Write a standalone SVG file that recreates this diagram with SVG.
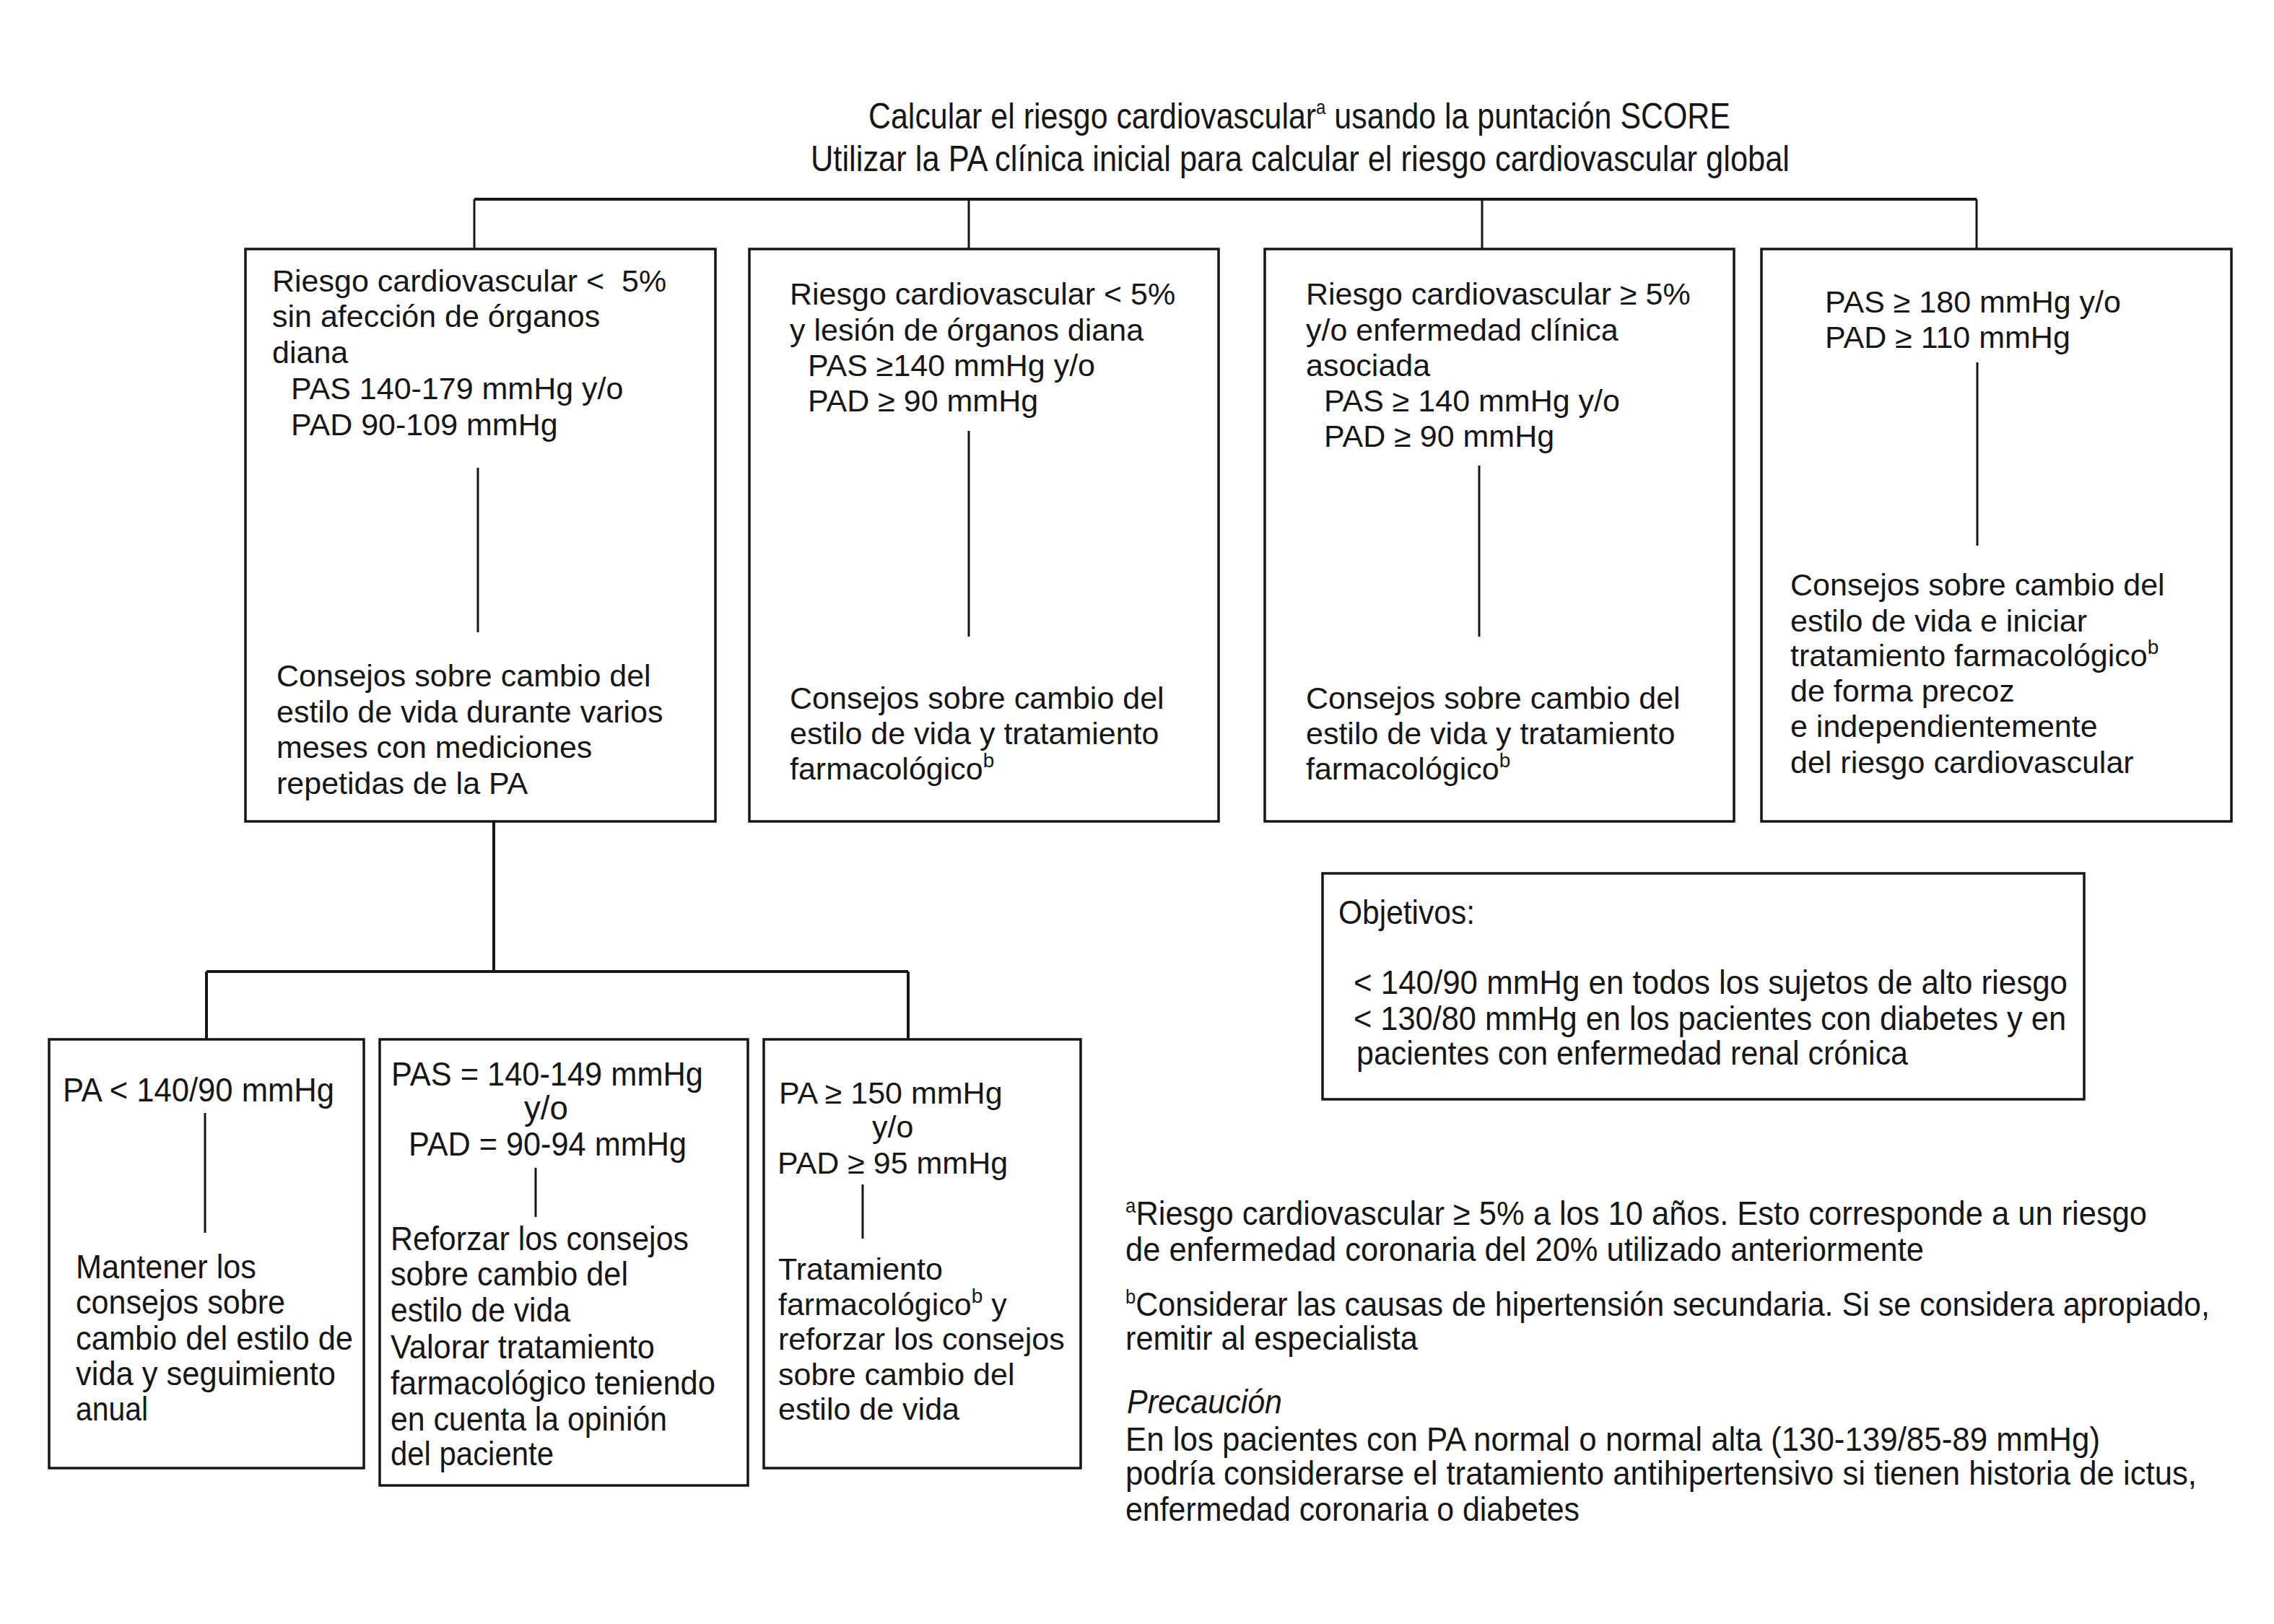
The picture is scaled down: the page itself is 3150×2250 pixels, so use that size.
<svg xmlns="http://www.w3.org/2000/svg" width="3150" height="2250" viewBox="0 0 3150 2250">
<style>
.bg{fill:#ffffff}
.box{fill:#ffffff;stroke:#161616;stroke-width:3.5}
.ln{stroke:#161616;stroke-width:3;fill:none}
.lnb{stroke:#161616;stroke-width:4;fill:none}
text{font-family:"Liberation Sans",Arial,sans-serif;fill:#161616}
.r{font-size:43px}
.c{font-size:47px}
.ti{font-size:50px}
.sup{font-size:28px}
.it{font-style:italic}
</style>
<rect class="bg" x="0" y="0" width="3150" height="2250"/>

<g id="connectors">
  <path class="lnb" d="M657 276 H2738"/>
  <path class="ln" d="M657 276 V345 M1342 276 V345 M2053 276 V345 M2738 276 V345"/>
  <path class="lnb" d="M684 1138 V1346 M286 1346 H1258 M286 1346 V1440 M1258 1346 V1440"/>
</g>

<g id="title">
  <text class="ti" x="1203" y="178" textLength="1194" lengthAdjust="spacingAndGlyphs">Calcular el riesgo cardiovascular<tspan class="sup" dy="-20">a</tspan><tspan dy="20"> usando la puntación SCORE</tspan></text>
  <text class="ti" x="1123" y="237" textLength="1356" lengthAdjust="spacingAndGlyphs">Utilizar la PA clínica inicial para calcular el riesgo cardiovascular global</text>
</g>

<g id="box1">
  <rect class="box" x="340" y="345" width="651" height="793"/>
  <text class="r" x="377" y="404">Riesgo cardiovascular &lt;&#160; 5%</text>
  <text class="r" x="377" y="453">sin afección de órganos</text>
  <text class="r" x="377" y="503">diana</text>
  <text class="r" x="403" y="553">PAS 140-179 mmHg y/o</text>
  <text class="r" x="403" y="603">PAD 90-109 mmHg</text>
  <path class="ln" d="M662 648 V876"/>
  <text class="r" x="383" y="951">Consejos sobre cambio del</text>
  <text class="r" x="383" y="1001">estilo de vida durante varios</text>
  <text class="r" x="383" y="1050">meses con mediciones</text>
  <text class="r" x="383" y="1100">repetidas de la PA</text>
</g>

<g id="box2">
  <rect class="box" x="1038" y="345" width="650" height="793"/>
  <text class="r" x="1094" y="422">Riesgo cardiovascular &lt; 5%</text>
  <text class="r" x="1094" y="472">y lesión de órganos diana</text>
  <text class="r" x="1119" y="521">PAS ≥140 mmHg y/o</text>
  <text class="r" x="1119" y="570">PAD ≥ 90 mmHg</text>
  <path class="ln" d="M1342 597 V882"/>
  <text class="r" x="1094" y="982">Consejos sobre cambio del</text>
  <text class="r" x="1094" y="1031">estilo de vida y tratamiento</text>
  <text class="r" x="1094" y="1080">farmacológico<tspan class="sup" dy="-17">b</tspan></text>
</g>

<g id="box3">
  <rect class="box" x="1752" y="345" width="650" height="793"/>
  <text class="r" x="1809" y="422">Riesgo cardiovascular ≥ 5%</text>
  <text class="r" x="1809" y="472">y/o enfermedad clínica</text>
  <text class="r" x="1809" y="521">asociada</text>
  <text class="r" x="1834" y="570">PAS ≥ 140 mmHg y/o</text>
  <text class="r" x="1834" y="619">PAD ≥ 90 mmHg</text>
  <path class="ln" d="M2049 645 V882"/>
  <text class="r" x="1809" y="982">Consejos sobre cambio del</text>
  <text class="r" x="1809" y="1031">estilo de vida y tratamiento</text>
  <text class="r" x="1809" y="1080">farmacológico<tspan class="sup" dy="-17">b</tspan></text>
</g>

<g id="box4">
  <rect class="box" x="2440" y="345" width="651" height="793"/>
  <text class="r" x="2528" y="433">PAS ≥ 180 mmHg y/o</text>
  <text class="r" x="2528" y="482">PAD ≥ 110 mmHg</text>
  <path class="ln" d="M2739 502 V756"/>
  <text class="r" x="2480" y="825">Consejos sobre cambio del</text>
  <text class="r" x="2480" y="875">estilo de vida e iniciar</text>
  <text class="r" x="2480" y="923">tratamiento farmacológico<tspan class="sup" dy="-17">b</tspan></text>
  <text class="r" x="2480" y="972">de forma precoz</text>
  <text class="r" x="2480" y="1021">e independientemente</text>
  <text class="r" x="2480" y="1071">del riesgo cardiovascular</text>
</g>

<g id="box5">
  <rect class="box" x="68" y="1440" width="436" height="594"/>
  <text class="c" x="87" y="1526" textLength="376" lengthAdjust="spacingAndGlyphs">PA &lt; 140/90 mmHg</text>
  <path class="ln" d="M284 1542 V1708"/>
  <text class="c" x="105" y="1771" textLength="250" lengthAdjust="spacingAndGlyphs">Mantener los</text>
  <text class="c" x="105" y="1820" textLength="290" lengthAdjust="spacingAndGlyphs">consejos sobre</text>
  <text class="c" x="105" y="1870" textLength="384" lengthAdjust="spacingAndGlyphs">cambio del estilo de</text>
  <text class="c" x="105" y="1919" textLength="360" lengthAdjust="spacingAndGlyphs">vida y seguimiento</text>
  <text class="c" x="105" y="1968" textLength="100" lengthAdjust="spacingAndGlyphs">anual</text>
</g>

<g id="box6">
  <rect class="box" x="526" y="1440" width="510" height="618"/>
  <text class="c" x="542" y="1504" textLength="432" lengthAdjust="spacingAndGlyphs">PAS = 140-149 mmHg</text>
  <text class="c" x="726" y="1551" textLength="61" lengthAdjust="spacingAndGlyphs">y/o</text>
  <text class="c" x="566" y="1601" textLength="385" lengthAdjust="spacingAndGlyphs">PAD = 90-94 mmHg</text>
  <path class="ln" d="M742 1618 V1686"/>
  <text class="c" x="541" y="1732" textLength="413" lengthAdjust="spacingAndGlyphs">Reforzar los consejos</text>
  <text class="c" x="541" y="1781" textLength="329" lengthAdjust="spacingAndGlyphs">sobre cambio del</text>
  <text class="c" x="541" y="1831" textLength="249" lengthAdjust="spacingAndGlyphs">estilo de vida</text>
  <text class="c" x="541" y="1882" textLength="366" lengthAdjust="spacingAndGlyphs">Valorar tratamiento</text>
  <text class="c" x="541" y="1932" textLength="450" lengthAdjust="spacingAndGlyphs">farmacológico teniendo</text>
  <text class="c" x="541" y="1982" textLength="383" lengthAdjust="spacingAndGlyphs">en cuenta la opinión</text>
  <text class="c" x="541" y="2030" textLength="226" lengthAdjust="spacingAndGlyphs">del paciente</text>
</g>

<g id="box7">
  <rect class="box" x="1058" y="1440" width="439" height="594"/>
  <text class="r" x="1079" y="1529">PA ≥ 150 mmHg</text>
  <text class="r" x="1208" y="1576">y/o</text>
  <text class="r" x="1077" y="1626">PAD ≥ 95 mmHg</text>
  <path class="ln" d="M1195 1641 V1716"/>
  <text class="r" x="1078" y="1773">Tratamiento</text>
  <text class="r" x="1078" y="1822">farmacológico<tspan class="sup" dy="-17">b</tspan><tspan dy="17"> y</tspan></text>
  <text class="r" x="1078" y="1870">reforzar los consejos</text>
  <text class="r" x="1078" y="1919">sobre cambio del</text>
  <text class="r" x="1078" y="1967">estilo de vida</text>
</g>

<g id="objetivos">
  <rect class="box" x="1832" y="1210" width="1055" height="313"/>
  <text class="c" x="1854" y="1280" textLength="189" lengthAdjust="spacingAndGlyphs">Objetivos:</text>
  <text class="c" x="1875" y="1377" textLength="989" lengthAdjust="spacingAndGlyphs">&lt; 140/90 mmHg en todos los sujetos de alto riesgo</text>
  <text class="c" x="1875" y="1427" textLength="987" lengthAdjust="spacingAndGlyphs">&lt; 130/80 mmHg en los pacientes con diabetes y en</text>
  <text class="c" x="1879" y="1475" textLength="764" lengthAdjust="spacingAndGlyphs">pacientes con enfermedad renal crónica</text>
</g>

<g id="notes">
  <text class="c" x="1559" y="1697" textLength="1415" lengthAdjust="spacingAndGlyphs"><tspan class="sup" dy="-17">a</tspan><tspan dy="17">Riesgo cardiovascular ≥ 5% a los 10 años. Esto corresponde a un riesgo</tspan></text>
  <text class="c" x="1559" y="1747" textLength="1106" lengthAdjust="spacingAndGlyphs">de enfermedad coronaria del 20% utilizado anteriormente</text>
  <text class="c" x="1559" y="1823" textLength="1502" lengthAdjust="spacingAndGlyphs"><tspan class="sup" dy="-17">b</tspan><tspan dy="17">Considerar las causas de hipertensión secundaria. Si se considera apropiado,</tspan></text>
  <text class="c" x="1559" y="1870" textLength="405" lengthAdjust="spacingAndGlyphs">remitir al especialista</text>
  <text class="c it" x="1561" y="1958" textLength="215" lengthAdjust="spacingAndGlyphs">Precaución</text>
  <text class="c" x="1559" y="2010" textLength="1350" lengthAdjust="spacingAndGlyphs">En los pacientes con PA normal o normal alta (130-139/85-89 mmHg)</text>
  <text class="c" x="1559" y="2057" textLength="1484" lengthAdjust="spacingAndGlyphs">podría considerarse el tratamiento antihipertensivo si tienen historia de ictus,</text>
  <text class="c" x="1559" y="2107" textLength="629" lengthAdjust="spacingAndGlyphs">enfermedad coronaria o diabetes</text>
</g>
</svg>
